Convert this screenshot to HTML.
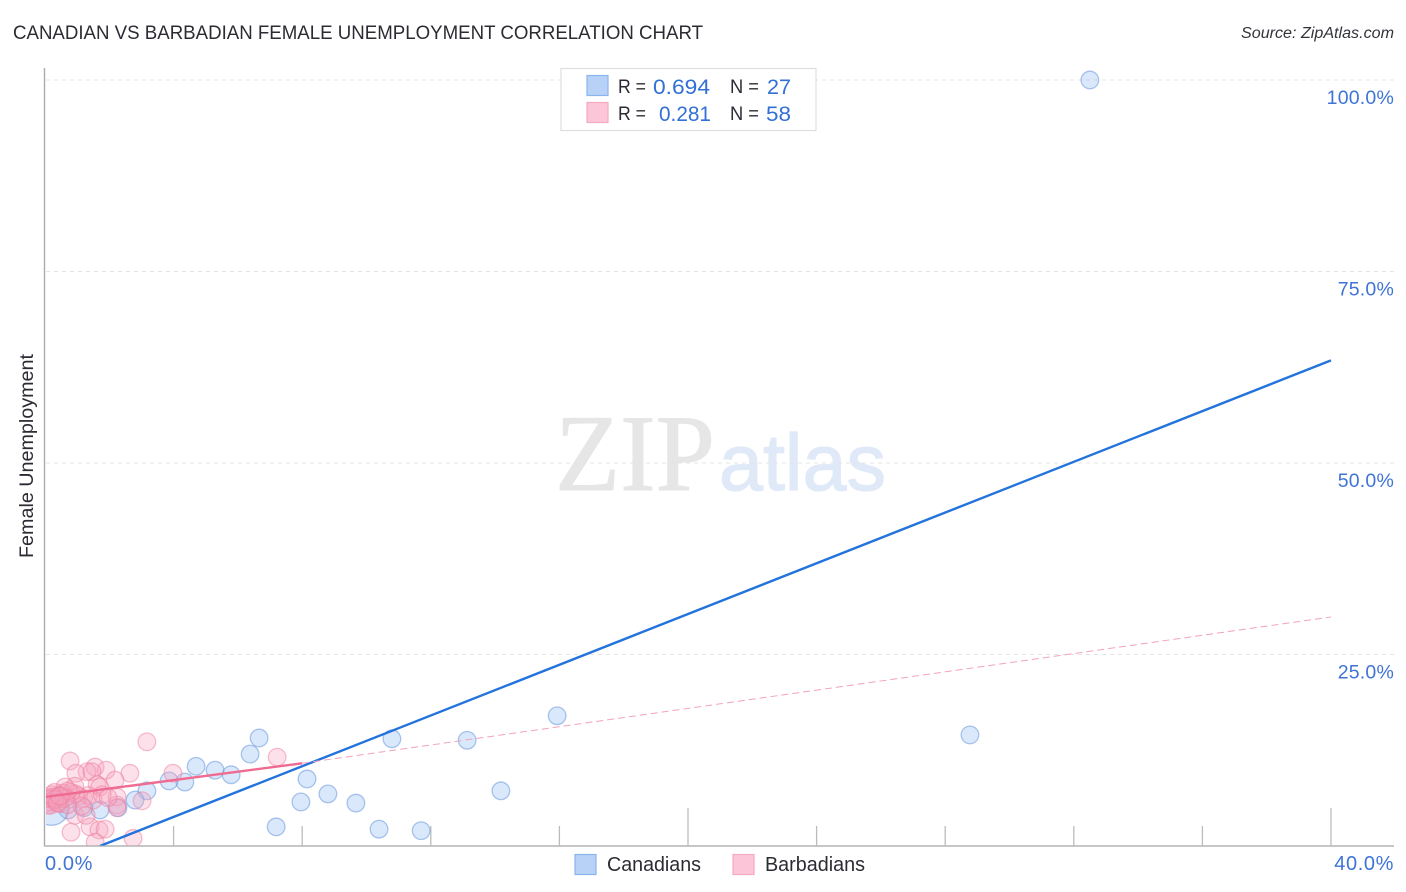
<!DOCTYPE html>
<html lang="en">
<head>
<meta charset="utf-8">
<title>Canadian vs Barbadian Female Unemployment Correlation Chart</title>
<style>
html,body{margin:0;padding:0;background:#fff;}
svg{display:block;font-family:"Liberation Sans",sans-serif;}
</style>
</head>
<body>
<svg id="chart" width="1406" height="892" viewBox="0 0 1406 892" xmlns="http://www.w3.org/2000/svg">
  <defs>
    <clipPath id="plot-clip"><rect x="46" y="60" width="1348" height="785.5"/></clipPath>
  </defs>
  <rect width="1406" height="892" fill="#fff"/>
  <text x="13" y="39" font-size="19" fill="#2b2b33" textLength="690" lengthAdjust="spacingAndGlyphs">CANADIAN VS BARBADIAN FEMALE UNEMPLOYMENT CORRELATION CHART</text>
  <text x="1241" y="38" font-size="15.5" font-style="italic" fill="#33333b" textLength="153" lengthAdjust="spacingAndGlyphs">Source: ZipAtlas.com</text>

  <g>
    <text x="555" y="490" font-family="'Liberation Serif',serif" font-size="109" fill="#e6e6e6" stroke="#e6e6e6" stroke-width="1" textLength="160" lengthAdjust="spacingAndGlyphs">ZIP</text>
    <text x="719" y="490" font-size="80" fill="#dfe9f8" stroke="#dfe9f8" stroke-width="1.2" textLength="167" lengthAdjust="spacingAndGlyphs">atlas</text>
  </g>

  <g id="grid"></g>
  <g id="axes"></g>
  <g id="marks" clip-path="url(#plot-clip)"></g>
  <g id="labels"></g>

  <text transform="translate(33,456) rotate(-90)" font-size="19" fill="#2b2b33" text-anchor="middle" textLength="204" lengthAdjust="spacingAndGlyphs">Female Unemployment</text>

  <g>
    <rect x="561" y="68.5" width="255" height="62" fill="#fff" stroke="#dedede" stroke-width="1.2"/>
    <rect x="587" y="75.5" width="21" height="20" fill="#b7d2f6" stroke="#8ab4ec" stroke-width="1.2"/>
    <rect x="587" y="102.5" width="21" height="20" fill="#fcc6d8" stroke="#f5a9c2" stroke-width="1.2"/>
    <text x="618" y="93" font-size="19" fill="#2b2b33" textLength="28" lengthAdjust="spacingAndGlyphs">R =</text>
    <text x="653" y="94" font-size="21.5" fill="#3370d6" textLength="57" lengthAdjust="spacingAndGlyphs">0.694</text>
    <text x="730" y="93" font-size="19" fill="#2b2b33" textLength="29" lengthAdjust="spacingAndGlyphs">N =</text>
    <text x="767" y="94" font-size="21.5" fill="#3370d6" textLength="24" lengthAdjust="spacingAndGlyphs">27</text>
    <text x="618" y="120" font-size="19" fill="#2b2b33" textLength="28" lengthAdjust="spacingAndGlyphs">R =</text>
    <text x="659" y="121" font-size="21.5" fill="#3370d6" textLength="52" lengthAdjust="spacingAndGlyphs">0.281</text>
    <text x="730" y="120" font-size="19" fill="#2b2b33" textLength="29" lengthAdjust="spacingAndGlyphs">N =</text>
    <text x="766" y="121" font-size="21.5" fill="#3370d6" textLength="25" lengthAdjust="spacingAndGlyphs">58</text>
  </g>

  <g>
    <rect x="575" y="854.5" width="21" height="20" fill="#b7d2f6" stroke="#8ab4ec" stroke-width="1.2"/>
    <text x="607" y="871" font-size="20" fill="#2b2b33" textLength="94" lengthAdjust="spacingAndGlyphs">Canadians</text>
    <rect x="733" y="854.5" width="21" height="20" fill="#fcc6d8" stroke="#f5a9c2" stroke-width="1.2"/>
    <text x="765" y="871" font-size="20" fill="#2b2b33" textLength="100" lengthAdjust="spacingAndGlyphs">Barbadians</text>
  </g>
</svg>

<script>
const canadianX = [32.5,28.77,15.93,14.18,13.13,10.79,11.7,10.39,9.67,8.8,8.15,7.96,7.19,6.66,6.38,5.79,5.29,4.7,4.35,3.86,3.17,2.8,2.27,1.71,1.21,0.72,0.2];
const canadianY = [100,14.5,17.0,7.2,13.8,14.0,2.0,2.2,5.6,6.8,8.75,5.75,2.5,14.1,12.0,9.3,9.9,10.4,8.35,8.5,7.2,6.0,5.0,4.7,5.0,4.7,5.0];
const canadianWeight = [1,1,1,1,1,1,1,1,1,1,1,1,1,1,1,1,1,1,1,1,1,1,1,1,1,1,2];

const barbadianX = [3.17,7.22,0.78,1.56,1.9,1.31,0.96,1.46,2.64,3.98,2.18,1.62,1.7,0.93,0.62,0.81,1.4,1.68,1.87,1.56,2.74,3.02,2.24,2.24,2.24,0.93,1.28,1.05,1.2,1.35,1.5,1.15,0.95,0.8,0.65,0.55,0.45,0.38,0.3,0.2,0.1,0.05,0.15,0.25,0.35,0.42,0.5,0.6,0.7,0.72,1.78,1.96,0.15,0.08,0.22,0.3,0.38,0.46];
const barbadianY = [13.6,11.6,11.1,10.3,9.9,9.7,9.5,9.7,9.5,9.5,8.6,8.0,7.7,7.8,7.7,1.8,2.5,2.1,2.2,0.5,1.0,5.9,6.4,5.35,5.0,4.0,4.0,6.5,6.2,6.6,6.0,5.2,6.8,7.0,6.3,6.9,5.5,6.5,7.0,6.1,5.4,6.2,5.3,6.4,6.0,5.7,6.6,6.2,5.4,7.2,6.7,6.3,6.3,5.7,6.7,6.1,5.6,6.5];

const canadianTrendX = [1.71,40];
const canadianTrendY = [0,63.4];
const barbadianSolidX = [0,8];
const barbadianSolidY = [6.4,10.8];
const barbadianDashX = [8,40];
const barbadianDashY = [10.8,29.9];

const xTicks = [4,8,12,16,20,24,28,32,36,40];
const xMajorTicks = [20,40];
const yGridValues = [25,50,75,100];
const yTickLabels = ['25.0%','50.0%','75.0%','100.0%'];
const xTickValues = [0,40];
const xTickLabels = ['0.0%','40.0%'];

const xPos = v => 45 + v * 32.15;
const yPos = v => 846 - v * 7.66;
const NS = 'http://www.w3.org/2000/svg';

function make(tag, parent, attrs) {
  const el = document.createElementNS(NS, tag);
  for (const k in attrs) el.setAttribute(k, attrs[k]);
  parent.appendChild(el);
  return el;
}

const gridG = document.getElementById('grid');
const axesG = document.getElementById('axes');
const marksG = document.getElementById('marks');
const labelsG = document.getElementById('labels');

yGridValues.forEach((v) => {
  const el = make('line', gridG, {x1:46, x2:1394, y1:yPos(v), y2:yPos(v), stroke:'#e4e4e4', 'stroke-width':1, 'stroke-dasharray':'4 4'});
  
  
});

const yAxis = make('line', axesG, {x1:44.5, x2:44.5, y1:68, y2:846.5, stroke:'#ababab', 'stroke-width':1.4});



const xAxis = make('line', axesG, {x1:44, x2:1394, y1:846, y2:846, stroke:'#b4b4b4', 'stroke-width':1.4});



xTicks.forEach((v) => {
  const top = xMajorTicks.includes(v) ? 808 : 826;
  const el = make('line', axesG, {x1:xPos(v), x2:xPos(v), y1:top, y2:846, stroke:'#bcbcbc', 'stroke-width':1.3});
  
  
});

function drawPoints(xs, ys, fill, stroke, name, weights) {
  xs.forEach((x, i) => {
    const r = weights ? 8.8 * weights[i] : 8.8;
    const el = make('circle', marksG, {cx:xPos(x), cy:yPos(ys[i]), r:r, fill:fill, 'fill-opacity':0.32, stroke:stroke, 'stroke-opacity':0.5, 'stroke-width':1.3});
    
    
  });
}

drawPoints(canadianX, canadianY, '#8ab6ee', '#5d90dc', 'canadian-point', canadianWeight);
drawPoints(barbadianX, barbadianY, '#f7a3bd', '#ee7f9f', 'barbadian-point', null);

const blueLine = make('line', marksG, {x1:xPos(canadianTrendX[0]), y1:yPos(canadianTrendY[0]), x2:xPos(canadianTrendX[1]), y2:yPos(canadianTrendY[1]), stroke:'#2373dc', 'stroke-width':2.4});



const pinkSolid = make('line', marksG, {x1:xPos(barbadianSolidX[0]), y1:yPos(barbadianSolidY[0]), x2:xPos(barbadianSolidX[1]), y2:yPos(barbadianSolidY[1]), stroke:'#ef6b92', 'stroke-width':2.4});



const pinkDash = make('line', marksG, {x1:xPos(barbadianDashX[0]), y1:yPos(barbadianDashY[0]), x2:xPos(barbadianDashX[1]), y2:yPos(barbadianDashY[1]), stroke:'#f2a3bb', 'stroke-width':1, 'stroke-dasharray':'7 4'});



yGridValues.forEach((v, i) => {
  const el = make('text', labelsG, {x:1394, y:yPos(v) + 24, 'font-size':19.5, 'letter-spacing':0.2, fill:'#3f74d6', 'text-anchor':'end'});
  el.textContent = yTickLabels[i];
  
  
});

xTickValues.forEach((v, i) => {
  const anchorEnd = i === xTickValues.length - 1;
  const el = make('text', labelsG, {x: anchorEnd ? 1394 : xPos(v), y:870, 'font-size':20, 'letter-spacing':0.6, fill:'#3f74d6', 'text-anchor': anchorEnd ? 'end' : 'start'});
  el.textContent = xTickLabels[i];
  
  
});
</script>
</body>
</html>
